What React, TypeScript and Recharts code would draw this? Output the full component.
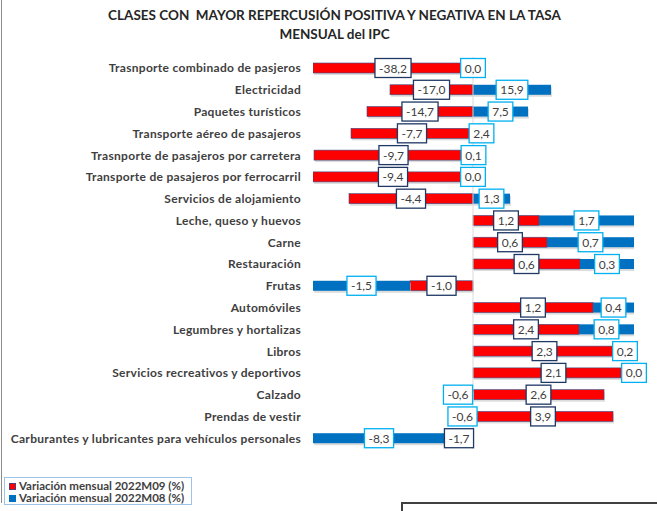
import React from 'react';
import { BarChart, Bar, XAxis, YAxis, ReferenceLine, LabelList } from 'recharts';

const categories = [
  'Trasnporte combinado de pasjeros',
  'Electricidad',
  'Paquetes turísticos ',
  'Transporte aéreo de pasajeros',
  'Trasnporte de pasajeros por carretera',
  'Transporte de pasajeros por ferrocarril',
  'Servicios de alojamiento',
  'Leche, queso y huevos ',
  'Carne',
  'Restauración',
  'Frutas',
  'Automóviles',
  'Legumbres y hortalizas',
  'Libros',
  'Servicios recreativos y deportivos',
  'Calzado',
  'Prendas de vestir',
  'Carburantes y lubricantes para vehículos personales',
];

// bar lengths (relative repercussion)
const barSep = [-1.6, -0.83, -1.06, -1.22, -1.59, -1.6, -1.24, 0.66, 0.74, 1.07, -0.63, 1.2, 1.06, 1.43, 1.61, 1.31, 1.4, -0.28];
const barAug = [0, 0.78, 0.55, 0.17, 0.01, 0, 0.37, 0.95, 0.87, 0.54, -0.97, 0.41, 0.55, 0.18, 0, -0.3, -0.21, -1.32];

// labels: monthly variation (%)
const varSep = [-38.2, -17.0, -14.7, -7.7, -9.7, -9.4, -4.4, 1.2, 0.6, 0.6, -1.0, 1.2, 2.4, 2.3, 2.1, 2.6, 3.9, -1.7];
const varAug = [0.0, 15.9, 7.5, 2.4, 0.1, 0.0, 1.3, 1.7, 0.7, 0.3, -1.5, 0.4, 0.8, 0.2, 0.0, -0.6, -0.6, -8.3];

const seriesNames = ['Variación mensual 2022M09 (%)', 'Variación mensual 2022M08 (%)'];

const data = categories.map((name, i) => ({
  name,
  sep: barSep[i],
  aug: barAug[i],
  vSep: varSep[i],
  vAug: varAug[i],
}));

const FONT = 'Lato, "Open Sans", sans-serif';
const TEXT = '#404040';
const RED = '#FF0000';
const BLUE = '#0070C0';

const fmt = (v: number) => v.toFixed(1).replace('.', ',');

const charW = (c: string) => {
  if (c >= '0' && c <= '9') return 6.96;
  if (c === ',') return 2.8;
  if (c === '-') return 4.4;
  return 6;
};

const makeLabel = (border: string) => (props: any) => {
  const vb = props.viewBox || {};
  const x = props.x ?? vb.x;
  const y = props.y ?? vb.y;
  const width = props.width ?? vb.width ?? 0;
  const height = props.height ?? vb.height ?? 0;
  if (x == null || y == null) return null;
  const cx = x + width / 2;
  const cy = y + height / 2;
  const text = fmt(Number(props.value));
  const tw = text.split('').reduce((s, c) => s + charW(c), 0);
  const bw = tw + 8;
  const bh = 19;
  return (
    <g>
      <rect x={cx - bw / 2} y={cy - bh / 2} width={bw} height={bh} fill="#FFFFFF" stroke={border} strokeWidth={1.3} />
      <text x={cx} y={cy} textAnchor="middle" dominantBaseline="central" fontSize={12} fontFamily={FONT} fill={TEXT}>
        {text}
      </text>
    </g>
  );
};

const makeShape = (fill: string, stroke?: string) => (props: any) => {
  let { x, y, width, height } = props;
  if (width == null || height == null) return null;
  if (width < 0) { x = x + width; width = -width; }
  if (height < 0) { y = y + height; height = -height; }
  if (width < 0.01) return <g />;
  return (
    <g>
      <rect x={x + 1} y={y + 2} width={width} height={height} fill="#BFBFBF" opacity={0.55} />
      <rect x={x} y={y} width={width} height={height} fill={fill} stroke={stroke} strokeWidth={stroke ? 0.6 : 0} />
    </g>
  );
};

const CategoryTick = (props: any) => {
  const { x, y, payload } = props;
  return (
    <text
      x={x}
      y={y}
      textAnchor="end"
      dominantBaseline="central"
      fontSize={12}
      fontWeight={700}
      letterSpacing={0.3}
      fontFamily={FONT}
      fill={TEXT}
    >
      {payload.value}
    </text>
  );
};

export default function App() {
  return (
    <div style={{ position: 'absolute', left: 0, top: 0, width: 657, height: 511, background: '#FFFFFF', overflow: 'hidden' }}>
      <div style={{ position: 'absolute', left: 1, top: 0, width: 1, height: 503, background: '#8C8C8C' }} />
      <div
        style={{
          position: 'absolute',
          left: 0,
          top: 6,
          width: 669,
          textAlign: 'center',
          fontFamily: FONT,
          fontWeight: 700,
          fontSize: 13.5,
          lineHeight: '18.5px',
          color: '#262626',
        }}
      >
        CLASES CON&nbsp; MAYOR REPERCUSIÓN POSITIVA Y NEGATIVA EN LA TASA
        <br />
        MENSUAL del IPC
      </div>
      <div style={{ position: 'absolute', left: 0, top: 0 }}>
        <BarChart
          layout="vertical"
          width={657}
          height={511}
          data={data}
          stackOffset="sign"
          barSize={10}
          margin={{ top: 57, right: 23, bottom: 62, left: 0 }}
        >
          <XAxis type="number" domain={[-1.6, 1.61]} hide allowDataOverflow />
          <YAxis
            type="category"
            dataKey="name"
            width={313}
            axisLine={false}
            tickLine={false}
            tickSize={0}
            tickMargin={12}
            interval={0}
            tick={<CategoryTick />}
          />
          <ReferenceLine x={0} stroke="#D9D9D9" strokeWidth={1} />
          <Bar dataKey="sep" stackId="a" fill={RED} isAnimationActive={false} shape={makeShape(RED, '#3A4F8A')} name={seriesNames[0]}>
            <LabelList dataKey="vSep" content={makeLabel('#1F3864')} />
          </Bar>
          <Bar dataKey="aug" stackId="a" fill={BLUE} isAnimationActive={false} shape={makeShape(BLUE)} name={seriesNames[1]}>
            <LabelList dataKey="vAug" content={makeLabel('#00B0F0')} />
          </Bar>
        </BarChart>
      </div>
      <div
        style={{
          position: 'absolute',
          left: 4,
          top: 477,
          width: 188,
          height: 28,
          border: '1px solid #9DC3E6',
          boxSizing: 'border-box',
          padding: '2px 0 0 4px',
          fontFamily: FONT,
          fontWeight: 700,
          fontSize: 11.5,
          color: TEXT,
          lineHeight: '12px',
          background: '#fff',
        }}
      >
        {[RED, BLUE].map((c, i) => (
          <div key={i} style={{ display: 'flex', alignItems: 'center', whiteSpace: 'nowrap' }}>
            <span
              style={{
                display: 'inline-block',
                width: 7,
                height: 7,
                background: c,
                boxSizing: 'border-box',
                border: i === 0 ? '1px solid #5B3A7A' : 'none',
                marginRight: 3,
              }}
            />
            {seriesNames[i]}
          </div>
        ))}
      </div>
      <div
        style={{
          position: 'absolute',
          left: 401,
          top: 502,
          width: 260,
          height: 20,
          borderTop: '2px solid #404040',
          borderLeft: '2px solid #404040',
          boxSizing: 'border-box',
        }}
      />
    </div>
  );
}
